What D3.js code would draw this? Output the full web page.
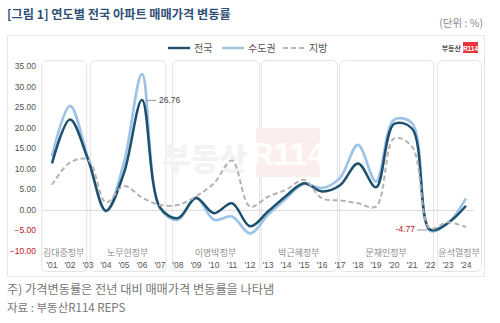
<!DOCTYPE html>
<html><head><meta charset="utf-8">
<script src="https://cdn.jsdelivr.net/npm/d3@7/dist/d3.min.js"></script>
<style>body{margin:0;background:#fff}svg{display:block}</style>
</head><body>
<script>
const years = d3.range(2001, 2025);
const yearLabels = years.map(y => "'" + String(y).slice(2));
const national = [11.3, 22.0, 12.3, -0.2, 9.0, 26.76, 0.6, -2.0, 2.9, -0.8, 1.6, -4.0, -0.4, 3.4, 6.5, 4.5, 6.0, 11.3, 5.5, 20.9, 19.8, -4.77, -3.2, 1.0];
const capital = [13.0, 25.3, 12.6, -0.4, 11.5, 33.0, 0.4, -2.4, 3.0, -2.4, -1.6, -5.7, -1.2, 2.8, 6.3, 5.3, 7.8, 15.8, 6.9, 21.9, 21.1, -5.1, -3.2, 2.8];
const regional = [6.1, 11.5, 12.2, 1.8, 5.8, 3.0, 1.2, 1.2, 3.3, 6.5, 12.0, 0.8, 3.2, 4.9, 7.3, 2.8, 2.3, 1.6, 0.8, 17.4, 15.4, -4.5, -3.0, -4.2];
const seriesNames = ["전국", "수도권", "지방"];
const govNames = ["김대중정부", "노무현정부", "이명박정부", "박근혜정부", "문재인정부", "윤석열정부"];
const govStart = [2000.4, 2003.1, 2007.67, 2012.6, 2016.95, 2022.4];
const govEnd = [2002.9, 2007.3, 2012.5, 2016.83, 2022.17, 2024.83];
const yTicks = [-10, -5, 0, 5, 10, 15, 20, 25, 30, 35];

const W = 500, H = 323;
const svg = d3.select("body").append("svg").attr("width", W).attr("height", H);
const kr = "'Noto Sans CJK KR','Noto Sans',sans-serif";
const num = "'Liberation Sans',Arial,sans-serif";

const x = d3.scaleLinear().domain([2001, 2024]).range([52, 466]);
const y = d3.scaleLinear().domain([-10, 35]).range([251, 66]);

// title
svg.append("text").attr("x", 7).attr("y", 19).attr("font-family", kr).attr("font-weight", 700)
  .attr("font-size", 12.2).attr("fill", "#2f5077").text("[그림 1] 연도별 전국 아파트 매매가격 변동률");
svg.append("text").attr("x", 483).attr("y", 27).attr("text-anchor", "end").attr("font-family", kr)
  .attr("font-size", 10.5).attr("fill", "#8a8a8a").text("(단위 : %)");

// outer frame
svg.append("rect").attr("x", 7.5).attr("y", 35.5).attr("width", 477).attr("height", 241)
  .attr("fill", "#fff").attr("stroke", "#e6e6e6");

// panels
const panels = svg.append("g");
govNames.forEach((g, i) => {
  const x0 = x(govStart[i]), x1 = x(govEnd[i]);
  panels.append("rect").attr("x", x0 + 0.5).attr("y", 60.5).attr("width", x1 - x0).attr("height", 211)
    .attr("rx", 5).attr("fill", "#fff").attr("stroke", "#e4e4e4");
  panels.append("text").attr("x", (x0 + x1) / 2).attr("y", 256).attr("text-anchor", "middle")
    .attr("font-family", kr).attr("font-size", 9).attr("fill", "#909090").text(g);
});

// watermark
const wm = svg.append("g");
wm.append("text").attr("x", 162).attr("y", 170).attr("font-family", kr).attr("font-weight", 900)
  .attr("font-size", 31).attr("fill", "#f3f3f3").text("부동산");
wm.append("rect").attr("x", 256).attr("y", 128).attr("width", 64).attr("height", 49).attr("fill", "#fdeeee");
wm.append("text").attr("x", 288).attr("y", 165).attr("text-anchor", "middle").attr("font-family", num)
  .attr("font-weight", 700).attr("font-size", 32).attr("fill", "#fff").text("R114");

// logo
svg.append("text").attr("x", 461).attr("y", 51).attr("text-anchor", "end").attr("font-family", kr)
  .attr("font-weight", 700).attr("font-size", 7).attr("fill", "#555").text("부동산");
svg.append("rect").attr("x", 463).attr("y", 42).attr("width", 15).attr("height", 11).attr("fill", "#e8343a");
svg.append("text").attr("x", 470.5).attr("y", 50.5).attr("text-anchor", "middle").attr("font-family", num)
  .attr("font-weight", 700).attr("font-size", 6.5).attr("fill", "#fff").text("R114");

// zero line
svg.append("line").attr("x1", 42).attr("x2", 474).attr("y1", y(0) + 0.5).attr("y2", y(0) + 0.5)
  .attr("stroke", "#d9d9d9");

// y labels
svg.append("g").selectAll("text").data(yTicks).join("text")
  .attr("x", 36).attr("y", d => y(d) + 3).attr("text-anchor", "end")
  .attr("font-family", num).attr("font-size", 8.5)
  .attr("fill", d => d < 0 ? "#c0141c" : "#555").text(d => d3.format(".2f")(d));

// x labels
svg.append("g").selectAll("text").data(years).join("text")
  .attr("x", d => x(d)).attr("y", 268).attr("text-anchor", "middle")
  .attr("font-family", num).attr("font-size", 8.5).attr("fill", "#555")
  .text((d, i) => yearLabels[i]);

// lines
const line = d3.line().x((d, i) => x(years[i])).y(d => y(d)).curve(d3.curveCatmullRom.alpha(0.5));
svg.append("path").attr("d", line(capital)).attr("fill", "none").attr("stroke", "#9dc3e6").attr("stroke-width", 2.7);
svg.append("path").attr("d", line(national)).attr("fill", "none").attr("stroke", "#1d4f6e").attr("stroke-width", 2.5);
svg.append("path").attr("d", line(regional)).attr("fill", "none").attr("stroke", "#b3b3b3")
  .attr("stroke-width", 2).attr("stroke-dasharray", "5,3");

// annotations
const iMax = national.indexOf(d3.max(national));
svg.append("line").attr("x1", x(years[iMax]) + 4).attr("x2", x(years[iMax]) + 14)
  .attr("y1", y(national[iMax]) + 0.5).attr("y2", y(national[iMax]) + 0.5).attr("stroke", "#999");
svg.append("text").attr("x", x(years[iMax]) + 17).attr("y", y(national[iMax]) + 3)
  .attr("font-family", num).attr("font-size", 8.5).attr("fill", "#444").text(national[iMax].toFixed(2));
const iMin = national.indexOf(d3.min(national));
svg.append("line").attr("x1", x(years[iMin]) - 13).attr("x2", x(years[iMin]) - 2)
  .attr("y1", y(national[iMin]) + 0.5).attr("y2", y(national[iMin]) + 0.5).attr("stroke", "#999");
svg.append("text").attr("x", x(years[iMin]) - 15).attr("y", y(national[iMin]) + 3).attr("text-anchor", "end")
  .attr("font-family", num).attr("font-size", 8.5).attr("fill", "#c0141c").text(national[iMin].toFixed(2));

// legend
const lg = [
  {x: 168, c: "#1d4f6e", w: 2.4, dash: null},
  {x: 222, c: "#9dc3e6", w: 2.4, dash: null},
  {x: 283, c: "#b3b3b3", w: 2, dash: "5,3"}
];
lg.forEach((l, i) => {
  svg.append("line").attr("x1", l.x).attr("x2", l.x + 22).attr("y1", 48).attr("y2", 48)
    .attr("stroke", l.c).attr("stroke-width", l.w).attr("stroke-dasharray", l.dash);
  svg.append("text").attr("x", l.x + 26).attr("y", 51.5).attr("font-family", kr).attr("font-size", 10)
    .attr("fill", "#555").text(seriesNames[i]);
});

// footer
svg.append("text").attr("x", 7).attr("y", 294).attr("font-family", kr).attr("font-size", 12.2)
  .attr("fill", "#777").text("주) 가격변동률은 전년 대비 매매가격 변동률을 나타냄");
svg.append("text").attr("x", 7).attr("y", 312).attr("font-family", kr).attr("font-size", 11.5)
  .attr("fill", "#777").text("자료 : 부동산R114 REPS");
</script>
</body></html>
